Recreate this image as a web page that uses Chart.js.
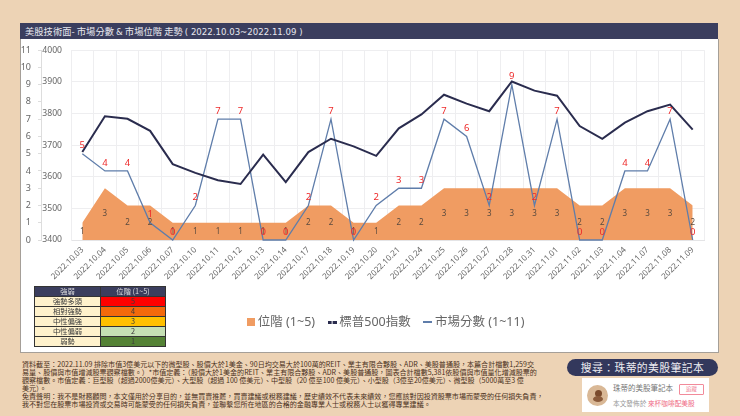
<!DOCTYPE html>
<html lang="zh-Hant"><head><meta charset="utf-8">
<script src="https://cdn.jsdelivr.net/npm/chart.js@4"></script>
<style>
html,body{margin:0;padding:0;width:740px;height:416px;overflow:hidden;background:#EDD3B5;font-family:"Noto Sans CJK TC","Noto Sans",sans-serif}
.abs{position:absolute}
#bar{left:20px;top:23px;width:698px;height:16px;background:#3B3E5E;color:#E8E8EE;font-size:9.3px;line-height:16px;text-indent:5px;white-space:pre}
#bar span{font-family:"DejaVu Sans";font-size:8.6px}
#panel{left:20px;top:39px;width:697px;height:313px;background:#fff;border-left:1.5px solid #A59F98;border-right:1px solid #A59F98;border-bottom:1.5px solid #A59F98;box-sizing:content-box}
#c{position:absolute;left:20px;top:36px}
#tbl{left:34px;top:286px;width:132px;border-collapse:collapse;font-size:7.3px;line-height:9px;text-align:center;color:#3b3b3b}
#tbl td,#tbl th{border:1px solid #333;padding:0;height:9px;font-weight:normal}
#tbl th{background:#3B3E5E;color:#ddd}
#notes{left:22px;top:360px;font-size:7.05px;line-height:8px;color:#4A3020;white-space:pre}
#pill{left:567px;top:359px;width:151px;height:17px;border-radius:9px;background:#33385C;color:#EDEDF2;font-size:10.8px;line-height:17px;text-align:center;letter-spacing:.45px}
#card{left:582px;top:378px;width:127px;height:34px;background:#fff}
#av{left:5px;top:7px;width:21px;height:21px;border-radius:50%;background:#D9B896}
#av1{left:8px;top:5px;width:7px;height:7px;border-radius:50%;background:#7A4A2C}
#av2{left:6px;top:11px;width:10px;height:6px;border-radius:50%;background:#8A5A3A}
#n1{left:31px;top:5px;font-size:7.5px;line-height:10px;color:#777;white-space:nowrap}
#btn{left:97px;top:6px;width:23px;height:9px;border:1px solid #F28A9A;border-radius:1px;font-size:5.5px;line-height:9px;text-align:center;color:#EF7E92}
#n2{left:31px;top:21px;font-size:6.7px;line-height:9px;color:#999;white-space:nowrap}
#n2 b{font-weight:normal;color:#EF6C86}
</style></head><body>
<div class="abs" id="bar">美股技術面- 市場分數 <span>&amp;</span> 市場位階 走勢 <span>( 2022.10.03~2022.11.09 )</span></div>
<div class="abs" id="panel"></div>
<canvas id="c" width="698" height="317"></canvas>
<table class="abs" id="tbl"><tbody id="tb"></tbody></table>
<div class="abs" id="notes">資料截至：2022.11.09 排除市值3億美元以下的微型股、股價大於1美金、90日均交易大於100萬的REIT、業主有限合夥股、ADR、美股普通股，本篇合計檔數1,259交
易量、股價與市值增減股票觀察檔數。）*市值定義：（股價大於1美金的REIT、業主有限合夥股、ADR、美股普通股，圖表合計檔數5,381依股價與市值量化增減股票的
觀察檔數。市值定義：巨型股（超過2000億美元）、大型股（超過 100 億美元）、中型股（20 億至100 億美元）、小型股（3億至20億美元）、微型股（5000萬至3 億
美元）。
免責聲明：我不是財務顧問，本文僅用於分享目的，並無買賣推薦，買賣建議或稅務建議，歷史績效不代表未來績效，您應該對因投資股票市場而蒙受的任何損失負責，
我不對您在股票市場投資或交易時可能蒙受的任何損失負責，並聯繫您所在地區的合格的金融專業人士或稅務人士以獲得專業建議。</div>
<div class="abs" id="pill">搜尋：珠蒂的美股筆記本</div>
<div class="abs" id="card">
 <div class="abs" id="av"><div class="abs" id="av1"></div><div class="abs" id="av2"></div></div>
 <div class="abs" id="n1">珠蒂的美股筆記本</div><div class="abs" id="btn">追蹤</div>
 <div class="abs" id="n2">本文發佈於 <b>來杯咖啡配美股</b></div>
</div>
<script>
const categories=["2022.10.03","2022.10.04","2022.10.05","2022.10.06","2022.10.07","2022.10.10","2022.10.11","2022.10.12","2022.10.13","2022.10.14","2022.10.17","2022.10.18","2022.10.19","2022.10.20","2022.10.21","2022.10.24","2022.10.25","2022.10.26","2022.10.27","2022.10.28","2022.10.31","2022.11.01","2022.11.02","2022.11.03","2022.11.04","2022.11.07","2022.11.08","2022.11.09"];
const positionLevel=[1,3,2,2,1,1,1,1,1,1,2,2,1,1,2,2,3,3,3,3,3,3,2,2,3,3,3,2];
const sp500=[3678,3791,3783,3745,3640,3612,3589,3577,3670,3583,3678,3720,3696,3666,3753,3797,3859,3831,3807,3901,3872,3856,3760,3720,3771,3807,3828,3749];
const marketScore=[5,4,4,1,0,2,7,7,0,0,2,7,0,2,3,3,7,6,2,9,2,7,0,0,4,4,7,0];
const tableHead=["強弱","位階 (1~5)"];
const tableNames=["強勢多頭","相對強勢","中性偏強","中性偏弱","弱勢"];
const tableLevels=[5,4,3,2,1];
const tableColors=["#FF0000","#F4690B","#FFC000","#C5E0B4","#548235"];

document.getElementById('tb').innerHTML=
 `<tr><th style="width:65px">${tableHead[0]}</th><th>${tableHead[1]}</th></tr>`+
 tableNames.map((n,i)=>`<tr><td style="background:#FFF2CC">${n}</td><td style="background:${tableColors[i]}">${tableLevels[i]}</td></tr>`).join('');

const uiFont='"Noto Sans","Noto Sans CJK TC",sans-serif';
const AREA='#F09C62',SPX='#2A2C4E',SCORE='#5F7DAA';

function icon(w,h,color){const c=document.createElement('canvas');c.width=w;c.height=h;const g=c.getContext('2d');g.fillStyle=color;g.fillRect(0,0,w,h);return c;}
function dashIcon(color){const c=document.createElement('canvas');c.width=9;c.height=3;const g=c.getContext('2d');g.fillStyle=color;g.fillRect(0,0,4,3);g.fillRect(5,0,4,3);return c;}
const legendIcons=[icon(8,8,AREA),dashIcon(SPX),icon(9,2,SCORE)];

const labelPlugin={id:'pointLabels',
 afterDatasetsDraw(ch){
  const {ctx,scales}=ch;const x=scales.x,y=scales.yScore;
  ctx.save();ctx.textAlign='center';ctx.textBaseline='middle';
  positionLevel.forEach((v,i)=>{ctx.font='8px '+uiFont;ctx.fillStyle='#5A4A3E';
    ctx.fillText(String(v),x.getPixelForValue(i),y.getPixelForValue(v/2));});
  marketScore.forEach((v,i)=>{ctx.font='9.5px '+uiFont;ctx.fillStyle='#EE2A2A';
    ctx.fillText(String(v),x.getPixelForValue(i),y.getPixelForValue(v)-8);});
  ctx.restore();
 },
 afterLayout(ch){ const l=ch.legend; if(l){l.left+=25;l.right+=25;} }
};

new Chart(document.getElementById('c'),{
 type:'line',
 data:{labels:categories,datasets:[
  {label:'位階 (1~5)',data:positionLevel,yAxisID:'yScore',fill:'origin',backgroundColor:AREA,borderColor:AREA,borderWidth:0,pointRadius:0,order:3,tension:0},
  {label:'標普500指數',data:sp500,yAxisID:'ySpx',borderColor:SPX,backgroundColor:SPX,borderWidth:2,pointRadius:0,order:1,tension:0,fill:false},
  {label:'市場分數 (1~11)',data:marketScore,yAxisID:'yScore',borderColor:SCORE,backgroundColor:SCORE,borderWidth:1.3,pointRadius:0,order:2,tension:0,fill:false,clip:false}
 ]},
 plugins:[labelPlugin],
 options:{responsive:false,animation:false,devicePixelRatio:1,
  layout:{padding:{left:0,right:14,top:6.5,bottom:14.5}},
  plugins:{tooltip:{enabled:false},title:{display:false},
   legend:{position:'bottom',labels:{font:{family:uiFont,size:12.5},color:'#666',padding:16,usePointStyle:true,pointStyleWidth:2,boxHeight:8,
    generateLabels(ch){return ch.data.datasets.map((d,i)=>({text:d.label,datasetIndex:i,fillStyle:d.backgroundColor,strokeStyle:d.borderColor,lineWidth:0,pointStyle:legendIcons[i],fontColor:'#666'}));}
   }}},
  scales:{
   x:{type:'category',offset:true,
    grid:{color:'#EEEEF0',drawTicks:false,offset:true},border:{color:'#E4E4E6'},
    ticks:{autoSkip:false,maxRotation:45,minRotation:45,padding:5,color:'#666',font:{family:uiFont,size:8.2}},
    afterFit(s){s.height=60;}},
   yScore:{position:'left',weight:1,min:0,max:11,
    grid:{drawOnChartArea:false,color:'#DDDDDD',tickLength:3},border:{color:'#DDDDDD'},
    ticks:{stepSize:1,padding:7,color:'#666',font:{family:uiFont,size:9}},
    afterFit(s){s.width=21;}},
   ySpx:{position:'left',weight:0,min:3400,max:4000,
    grid:{color:'#EEEEF0',drawTicks:false},border:{color:'#EEEEF0'},
    ticks:{stepSize:100,padding:9,color:'#666',font:{family:uiFont,size:8.6},callback:v=>String(v)},
    afterFit(s){s.width=30;}}
  }
 }
});
</script>
</body></html>
